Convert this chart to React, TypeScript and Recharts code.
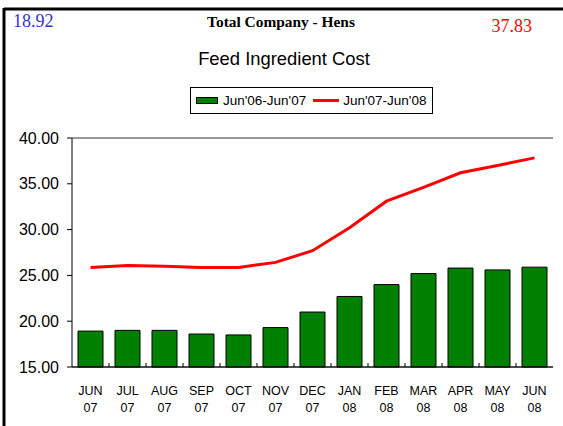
import React from 'react';
import {
  ComposedChart,
  Bar,
  Line,
  XAxis,
  YAxis,
  CartesianGrid,
  Legend,
} from 'recharts';

const months = ['JUN', 'JUL', 'AUG', 'SEP', 'OCT', 'NOV', 'DEC', 'JAN', 'FEB', 'MAR', 'APR', 'MAY', 'JUN'];
const years = ['07', '07', '07', '07', '07', '07', '07', '08', '08', '08', '08', '08', '08'];
const priorYear = [18.92, 19.0, 19.0, 18.6, 18.5, 19.3, 21.0, 22.7, 24.0, 25.2, 25.8, 25.6, 25.9];
const currentYear = [25.87, 26.09, 26.0, 25.87, 25.87, 26.42, 27.7, 30.2, 33.1, 34.6, 36.2, 37.0, 37.83];
const yTicks = [15, 20, 25, 30, 35, 40];

const data = months.map((m, i) => ({
  key: `${m} ${years[i]}`,
  month: m,
  year: years[i],
  prior: priorYear[i],
  current: currentYear[i],
}));

const W = 563;
const H = 426;
const AXIS_W = 72;
const MARGIN = { top: 138, right: 10, bottom: 14, left: 0 };
const HALF_BAND = (W - AXIS_W - MARGIN.right) / months.length / 2;

const MonthTick = (props: any) => {
  const { x, y, index } = props;
  const d = data[index];
  return (
    <g>
      {index > 0 && (
        <line x1={x - HALF_BAND} x2={x - HALF_BAND} y1={y - 4} y2={y} stroke="#000" strokeWidth={1} />
      )}
      <text x={x} y={y + 27.5} textAnchor="middle" fontSize={12.5} fill="#000" fontFamily="Arial, 'Liberation Sans', sans-serif">
        {d.month}
      </text>
      <text x={x} y={y + 45} textAnchor="middle" fontSize={12.5} fill="#000" fontFamily="Arial, 'Liberation Sans', sans-serif">
        {d.year}
      </text>
    </g>
  );
};

const LegendBox = () => (
  <div
    style={{
      boxSizing: 'border-box',
      width: 243,
      height: 27,
      border: '1px solid #000',
      background: '#fff',
      display: 'flex',
      alignItems: 'center',
      paddingLeft: 5,
      fontFamily: "Arial, 'Liberation Sans', sans-serif",
      fontSize: 13.5,
      color: '#000',
    }}
  >
    <span style={{ display: 'inline-block', width: 22, height: 7, background: '#008000', border: '1px solid #000', boxSizing: 'border-box' }} />
    <span style={{ marginLeft: 5 }}>Jun'06-Jun'07</span>
    <span style={{ display: 'inline-block', width: 26, height: 3, background: '#ff0000', marginLeft: 7 }} />
    <span style={{ marginLeft: 4 }}>Jun'07-Jun'08</span>
  </div>
);

export default function App() {
  return (
    <div style={{ position: 'absolute', left: 0, top: 0, width: W, height: H, background: '#fff' }}>
      <ComposedChart width={W} height={H} data={data} margin={MARGIN}>
        <CartesianGrid horizontal vertical={false} stroke="#333" />
        <XAxis
          dataKey="key"
          interval={0}
          tickSize={0}
          tickMargin={0}
          tickLine={false}
          axisLine={{ stroke: '#000' }}
          height={45}
          tick={<MonthTick />}
        />
        <YAxis
          yAxisId="left"
          width={AXIS_W}
          domain={[15, 40]}
          ticks={yTicks}
          interval={0}
          tickFormatter={(v: number) => v.toFixed(2)}
          tickSize={5}
          tickMargin={8}
          axisLine={{ stroke: '#000' }}
          tickLine={{ stroke: '#000' }}
          tick={{ fontSize: 16, fill: '#000', fontFamily: "Arial, 'Liberation Sans', sans-serif" }}
        />
        <YAxis
          yAxisId="right"
          orientation="right"
          width={0}
          domain={[15, 40]}
          tick={false}
          tickLine={false}
          axisLine={{ stroke: '#b0b0b0', strokeWidth: 2 }}
        />
        <Legend
          layout="horizontal"
          verticalAlign="middle"
          align="center"
          wrapperStyle={{ left: 190, top: 87, width: 243, height: 27 }}
          content={() => <LegendBox />}
        />
        <Bar
          yAxisId="left"
          dataKey="prior"
          name="Jun'06-Jun'07"
          fill="#008000"
          stroke="#000"
          strokeWidth={1}
          barSize={25}
          isAnimationActive={false}
        />
        <Line
          yAxisId="left"
          type="linear"
          dataKey="current"
          name="Jun'07-Jun'08"
          stroke="#ff0000"
          strokeWidth={3}
          dot={false}
          activeDot={false}
          isAnimationActive={false}
        />
      </ComposedChart>
      <svg
        width={W}
        height={H}
        style={{ position: 'absolute', left: 0, top: 0, pointerEvents: 'none' }}
      >
        <line x1={4} y1={9} x2={W} y2={9} stroke="#000" strokeWidth={3} />
        <line x1={4} y1={8} x2={4} y2={H} stroke="#000" strokeWidth={3} />
        <text x={13} y={27.3} fontSize={18} fill="#3333cc" fontFamily="'Liberation Serif', 'Times New Roman', serif">
          18.92
        </text>
        <text x={281} y={26.7} textAnchor="middle" fontSize={15.4} fontWeight="bold" fill="#000" fontFamily="'Liberation Serif', 'Times New Roman', serif">
          Total Company - Hens
        </text>
        <text x={491.5} y={32.3} fontSize={18} fill="#ff0000" fontFamily="'Liberation Serif', 'Times New Roman', serif">
          37.83
        </text>
        <text x={284} y={65} textAnchor="middle" fontSize={18.4} fill="#000" fontFamily="Arial, 'Liberation Sans', sans-serif">
          Feed Ingredient Cost
        </text>
      </svg>
    </div>
  );
}
